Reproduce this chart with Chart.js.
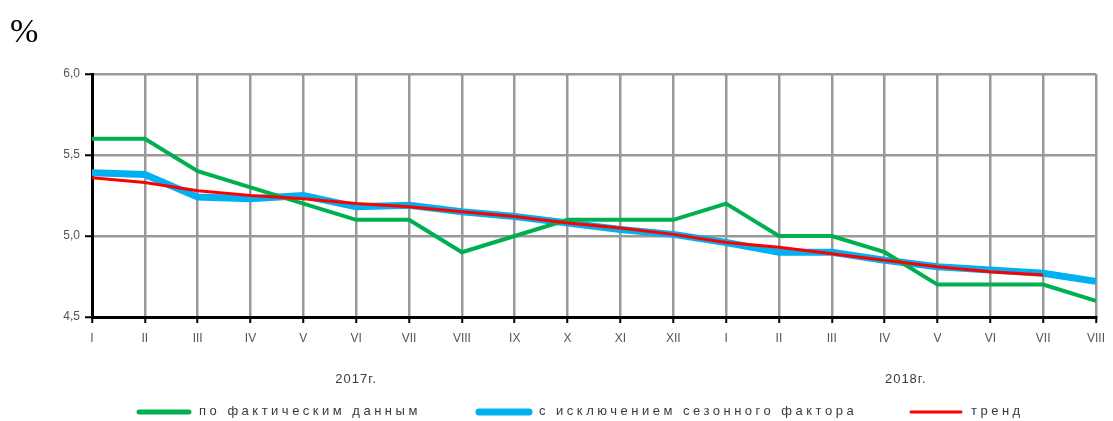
<!DOCTYPE html>
<html>
<head>
<meta charset="utf-8">
<script src="https://cdn.jsdelivr.net/npm/chart.js@4/dist/chart.umd.min.js"></script>
<style>
  body { margin: 0; background: #fff; }
  canvas { display: block; }
</style>
</head>
<body>
<canvas id="chart" width="1113" height="421"></canvas>
<script>
// months, roman numerals (2017: I-XII, 2018: I-VIII)
let months = ["I", "II", "III", "IV", "V", "VI", "VII", "VIII", "IX", "X", "XI", "XII",
              "I", "II", "III", "IV", "V", "VI", "VII", "VIII"];
let years = ["2017г.", "2018г."];

// по фактическим данным
let actual = [5.6, 5.6, 5.4, 5.3, 5.2, 5.1, 5.1, 4.9, 5.0, 5.1, 5.1, 5.1,
              5.2, 5.0, 5.0, 4.9, 4.7, 4.7, 4.7, 4.6];
// с исключением сезонного фактора
let seasonal = [5.39, 5.38, 5.24, 5.23, 5.25, 5.18, 5.19, 5.15, 5.12, 5.08, 5.04, 5.01,
                4.96, 4.90, 4.90, 4.85, 4.81, 4.79, 4.77, 4.72];
// тренд (no value for last month)
let trend = [5.36, 5.33, 5.28, 5.25, 5.23, 5.20, 5.18, 5.15, 5.12, 5.08, 5.05, 5.01,
             4.96, 4.93, 4.89, 4.85, 4.81, 4.78, 4.76, null];

let yTicks = [4.5, 5.0, 5.5, 6.0];

const tickFont = { family: "Liberation Sans", size: 12 };
const textColor = "#3a3a3a";

// draws the "%" sign, year captions and the legend
const extras = {
    id: "extras",
    afterDraw(chart) {
        const ctx = chart.ctx;
        const x = chart.scales.x;
        ctx.save();

        ctx.fillStyle = "#000";
        ctx.font = "34px 'Liberation Serif'";
        ctx.textBaseline = "alphabetic";
        ctx.textAlign = "left";
        ctx.fillText("%", 10, 42);

        ctx.fillStyle = textColor;
        ctx.font = "13px 'Liberation Sans'";
        ctx.textAlign = "center";
        ctx.textBaseline = "middle";
        ctx.letterSpacing = "1px";
        ctx.fillText(years[0], x.getPixelForValue(5.0), 379);
        ctx.fillText(years[1], x.getPixelForValue(15.4), 379);

        // legend
        let starts = [139, 479, 911];
        ctx.textAlign = "left";
        ctx.letterSpacing = "3.5px";
        chart.data.datasets.forEach((ds, i) => {
            let lx = starts[i];
            ctx.strokeStyle = ds.borderColor;
            ctx.lineWidth = ds.legendWidth;
            ctx.lineCap = "round";
            ctx.beginPath();
            ctx.moveTo(lx, 412);
            ctx.lineTo(lx + 50, 412);
            ctx.stroke();
            ctx.fillStyle = textColor;
            ctx.fillText(ds.label, lx + 60, 411);
        });
        ctx.restore();
    }
};

let ctx = document.getElementById("chart");
let myChart = new Chart(ctx, {
    type: "line",
    data: {
        labels: months,
        datasets: [
            {
                label: "по фактическим данным",
                data: actual,
                borderColor: "#00b050",
                borderWidth: 4,
                legendWidth: 5,
                order: 1
            },
            {
                label: "с исключением сезонного фактора",
                data: seasonal,
                borderColor: "#00b0f0",
                borderWidth: 7,
                legendWidth: 7,
                order: 2
            },
            {
                label: "тренд",
                data: trend,
                borderColor: "#ff0000",
                borderWidth: 3,
                legendWidth: 3,
                order: 0
            }
        ]
    },
    options: {
        responsive: false,
        animation: false,
        layout: { padding: { top: 74, right: 13, left: 0, bottom: 0 } },
        elements: {
            point: { radius: 0 },
            line: { tension: 0, fill: false }
        },
        plugins: {
            legend: { display: false },
            tooltip: { enabled: false }
        },
        scales: {
            x: {
                offset: false,
                grid: {
                    color: "#999",
                    lineWidth: 2.5,
                    tickColor: "#000",
                    tickWidth: 2,
                    tickLength: 6,
                    offset: false
                },
                border: { color: "#000", width: 3 },
                ticks: {
                    font: tickFont,
                    color: "#555",
                    padding: 8,
                    maxRotation: 0,
                    autoSkip: false
                },
                afterFit(scale) { scale.height = 104; }
            },
            y: {
                min: 4.5,
                max: 6.0,
                afterBuildTicks(scale) {
                    scale.ticks = yTicks.map(v => ({ value: v }));
                },
                grid: {
                    color: "#999",
                    lineWidth: 2.5,
                    tickColor: "#000",
                    tickWidth: 2,
                    tickLength: 7
                },
                border: { color: "#000", width: 3 },
                ticks: {
                    font: tickFont,
                    color: "#555",
                    padding: 5,
                    callback: v => v.toFixed(1).replace(".", ",")
                },
                afterFit(scale) { scale.width = 92; }
            }
        }
    },
    plugins: [extras]
});
</script>
</body>
</html>
